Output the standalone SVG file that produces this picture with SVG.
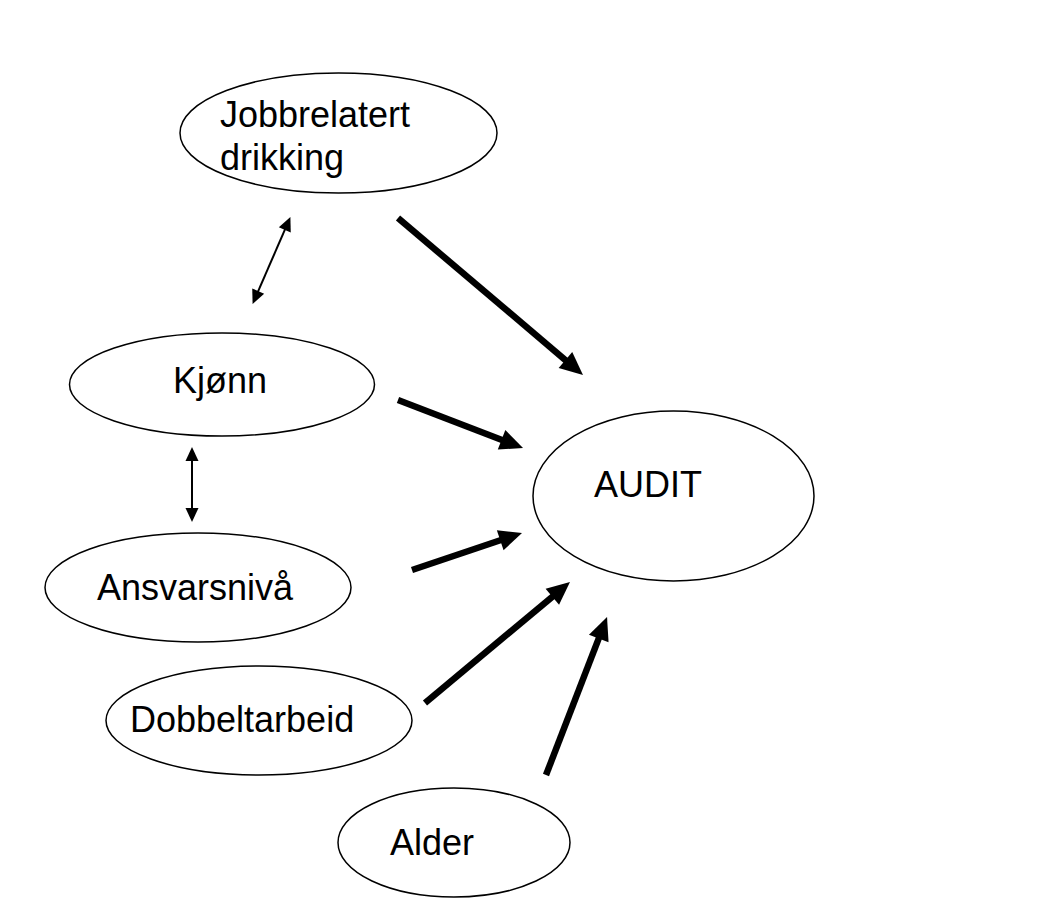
<svg xmlns="http://www.w3.org/2000/svg" width="1058" height="921" viewBox="0 0 1058 921">
<style>
.node ellipse{fill:#fff;stroke:#000;stroke-width:1.5}
.node text{font-family:"Liberation Sans",Arial,sans-serif;font-size:36px;fill:#000}
.thick{stroke:#000;stroke-width:6.5;fill:none;marker-end:url(#big)}
.thin{stroke:#000;stroke-width:2;fill:none;marker-start:url(#small);marker-end:url(#small)}
</style>
<defs>
<marker id="big" markerUnits="userSpaceOnUse" markerWidth="23" markerHeight="21" refX="4" refY="10.5" orient="auto" overflow="visible"><path d="M0,0 L23,10.5 L0,21 z" fill="#000"/></marker>
<marker id="small" markerUnits="userSpaceOnUse" markerWidth="14" markerHeight="13" refX="3" refY="6.5" orient="auto-start-reverse" overflow="visible"><path d="M0,0 L14,6.5 L0,13 z" fill="#000"/></marker>
</defs>
<rect width="1058" height="921" fill="#fff"/>
<g id="jobbrelatert" class="node"><ellipse cx="338.5" cy="133" rx="158.5" ry="60"/><text x="220" y="127">Jobbrelatert</text><text x="220" y="170">drikking</text></g>
<g id="kjonn" class="node"><ellipse cx="222" cy="384.5" rx="152.5" ry="51.5"/><text x="173" y="393">Kjønn</text></g>
<g id="ansvarsniva" class="node"><ellipse cx="198" cy="587.5" rx="153" ry="54.5"/><text x="97" y="600">Ansvarsnivå</text></g>
<g id="audit" class="node"><ellipse cx="673.5" cy="496" rx="140.5" ry="85"/><text x="594" y="497">AUDIT</text></g>
<g id="dobbeltarbeid" class="node"><ellipse cx="259" cy="720.5" rx="153" ry="54.5"/><text x="130" y="732">Dobbeltarbeid</text></g>
<g id="alder" class="node"><ellipse cx="454" cy="842.5" rx="116" ry="54.5"/><text x="390" y="855">Alder</text></g>
<g id="connectors">
<line class="thin" x1="286.0" y1="227.2" x2="257.0" y2="293.8"/>
<line class="thin" x1="192" y1="458" x2="192" y2="511"/>
<line class="thick" x1="398" y1="218" x2="568.5" y2="362.7"/>
<line class="thick" x1="398" y1="400" x2="505.3" y2="441.2"/>
<line class="thick" x1="412" y1="570" x2="504.0" y2="539.0"/>
<line class="thick" x1="425" y1="703" x2="555.4" y2="594.2"/>
<line class="thick" x1="546" y1="775" x2="600.2" y2="634.7"/>
</g>
</svg>
